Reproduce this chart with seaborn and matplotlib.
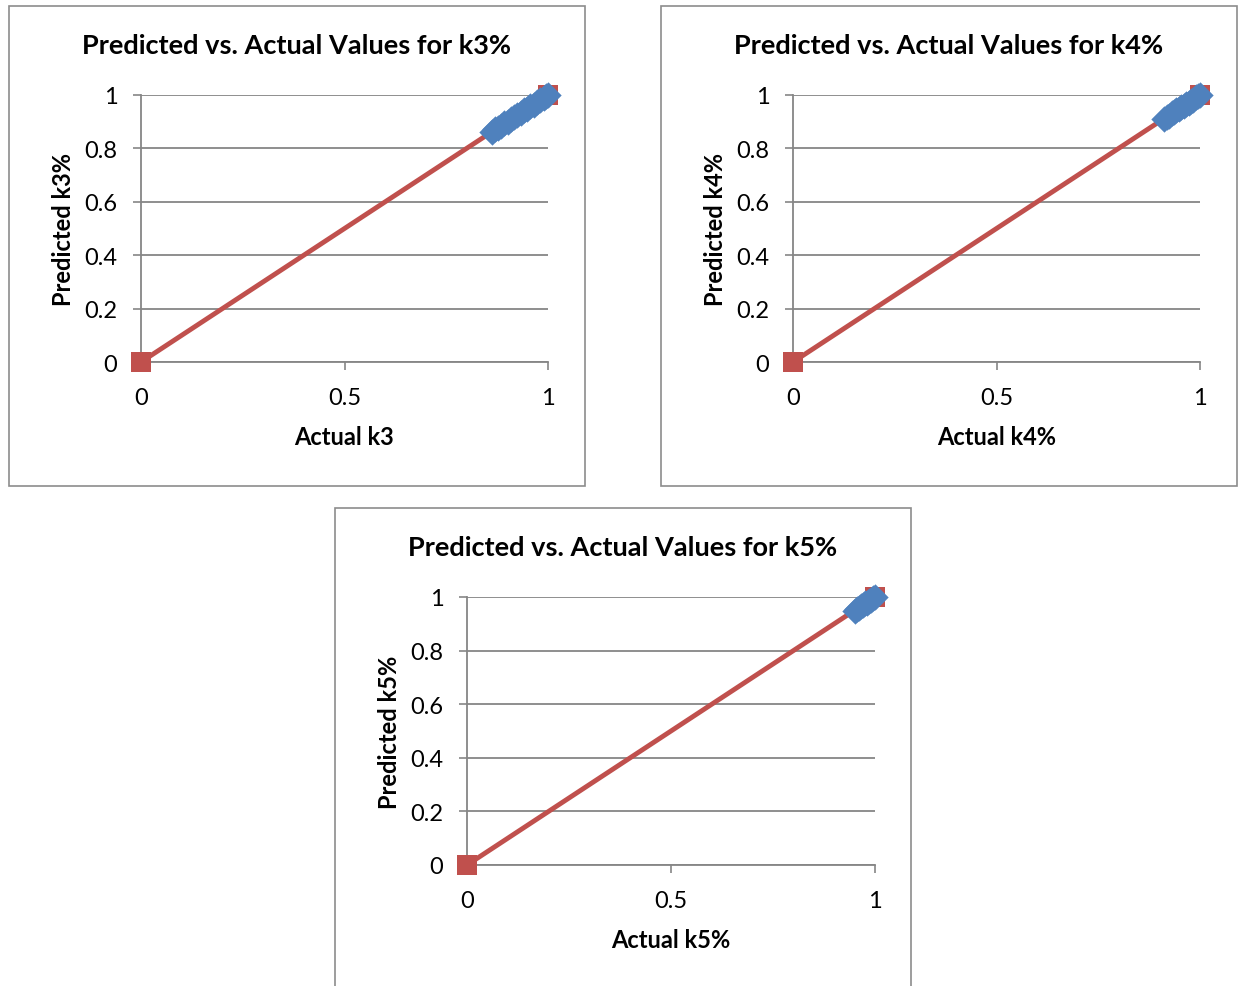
import matplotlib
matplotlib.use("Agg")
import matplotlib.pyplot as plt
import seaborn as sns
import pandas as pd
from matplotlib.patches import Rectangle

sns.set_theme(style="white")
plt.rcParams['font.family'] = ['Lato', 'DejaVu Sans']

# ---- data ----
k3_actual = [0.862, 0.870, 0.877, 0.885, 0.893, 0.901, 0.909, 0.917, 0.925, 0.933,
             0.941, 0.949, 0.957, 0.965, 0.973, 0.981, 0.989, 0.995, 1.000]
k3_pred   = [0.860, 0.871, 0.878, 0.884, 0.894, 0.900, 0.910, 0.916, 0.926, 0.932,
             0.942, 0.948, 0.958, 0.964, 0.974, 0.980, 0.990, 0.996, 1.000]
k4_actual = [0.912, 0.918, 0.924, 0.930, 0.936, 0.942, 0.948, 0.954, 0.960, 0.966,
             0.972, 0.978, 0.984, 0.990, 0.995, 1.000]
k4_pred   = [0.910, 0.919, 0.923, 0.931, 0.935, 0.943, 0.947, 0.955, 0.959, 0.967,
             0.971, 0.979, 0.983, 0.991, 0.996, 1.000]
k5_actual = [0.950, 0.955, 0.960, 0.965, 0.970, 0.975, 0.980, 0.985, 0.990, 0.995, 1.000]
k5_pred   = [0.948, 0.956, 0.959, 0.966, 0.969, 0.976, 0.979, 0.986, 0.989, 0.996, 1.000]
ref_x = [0, 1]
ref_y = [0, 1]

titles = ["Predicted vs. Actual Values for k3%",
          "Predicted vs. Actual Values for k4%",
          "Predicted vs. Actual Values for k5%"]
xlabels = ["Actual k3", "Actual k4%", "Actual k5%"]
ylabels = ["Predicted k3%", "Predicted k4%", "Predicted k5%"]
yticks = [0, 0.2, 0.4, 0.6, 0.8, 1]
ytick_labels = ["0", "0.2", "0.4", "0.6", "0.8", "1"]
xticks = [0, 0.5, 1]
xtick_labels = ["0", "0.5", "1"]

W, H = 1238, 987
fig = plt.figure(figsize=(W / 100, H / 100), dpi=100)
fig.patch.set_facecolor("white")

# panel frames (pixel coords: x0, y0, x1, y1)
frames = [(9, 7, 585, 487), (661, 7, 1237, 487), (335, 509, 911, 1000)]
# axes boxes (pixel coords: left, top, right, bottom)
boxes = [(141, 96, 548, 363), (793, 96, 1200, 363), (467, 598, 875, 866)]

datasets = [(k3_actual, k3_pred), (k4_actual, k4_pred), (k5_actual, k5_pred)]

blue = "#4F81BD"
red = "#C0504D"
grid_c = "#868686"

for i in range(3):
    fx0, fy0, fx1, fy1 = frames[i]
    fig.patches.append(Rectangle((fx0 / W, 1 - fy1 / H), (fx1 - fx0) / W, (fy1 - fy0) / H,
                                 transform=fig.transFigure, fill=False,
                                 edgecolor="#8C8C8C", linewidth=1.2, zorder=0))
    l, t, r, b = boxes[i]
    ax = fig.add_axes([l / W, 1 - b / H, (r - l) / W, (b - t) / H])
    ax.set_facecolor("none")
    df_ref = pd.DataFrame({"x": ref_x, "y": ref_y})
    sns.lineplot(data=df_ref, x="x", y="y", ax=ax, color=red, linewidth=3.5,
                 marker="s", markersize=15, markeredgewidth=0, zorder=3, clip_on=False)
    a, p = datasets[i]
    df = pd.DataFrame({"actual": a, "pred": p})
    sns.scatterplot(data=df, x="actual", y="pred", ax=ax, color=blue, marker="D",
                    s=180, linewidth=0, zorder=4, clip_on=False)
    ax.set_xlim(0, 1)
    ax.set_ylim(0, 1)
    ax.set_yticks(yticks)
    ax.set_yticklabels(ytick_labels)
    ax.set_xticks(xticks)
    ax.set_xticklabels(xtick_labels)
    ax.tick_params(axis="y", length=6, width=1.2, color=grid_c, pad=11, labelsize=17,
                   left=True, direction="out", labelcolor="black")
    ax.tick_params(axis="x", length=6, width=1.2, color=grid_c, pad=12, labelsize=17,
                   bottom=True, direction="out", labelcolor="black")
    ax.grid(axis="y", color=grid_c, linewidth=1.3)
    ax.set_axisbelow(True)
    for s in ["top", "right"]:
        ax.spines[s].set_visible(False)
    for s in ["left", "bottom"]:
        ax.spines[s].set_color(grid_c)
        ax.spines[s].set_linewidth(1.3)
    fig.text((fx0 + fx1) / 2 / W, 1 - (fy0 + 39) / H, titles[i], fontsize=19.5,
             fontweight="bold", ha="center", va="center", color="black")
    ax.set_xlabel(xlabels[i], fontsize=17, fontweight="bold", labelpad=12, color="black")
    ax.set_ylabel(ylabels[i], fontsize=17, fontweight="bold", labelpad=7, color="black")

fig.savefig("out.png", dpi=100, facecolor="white")
